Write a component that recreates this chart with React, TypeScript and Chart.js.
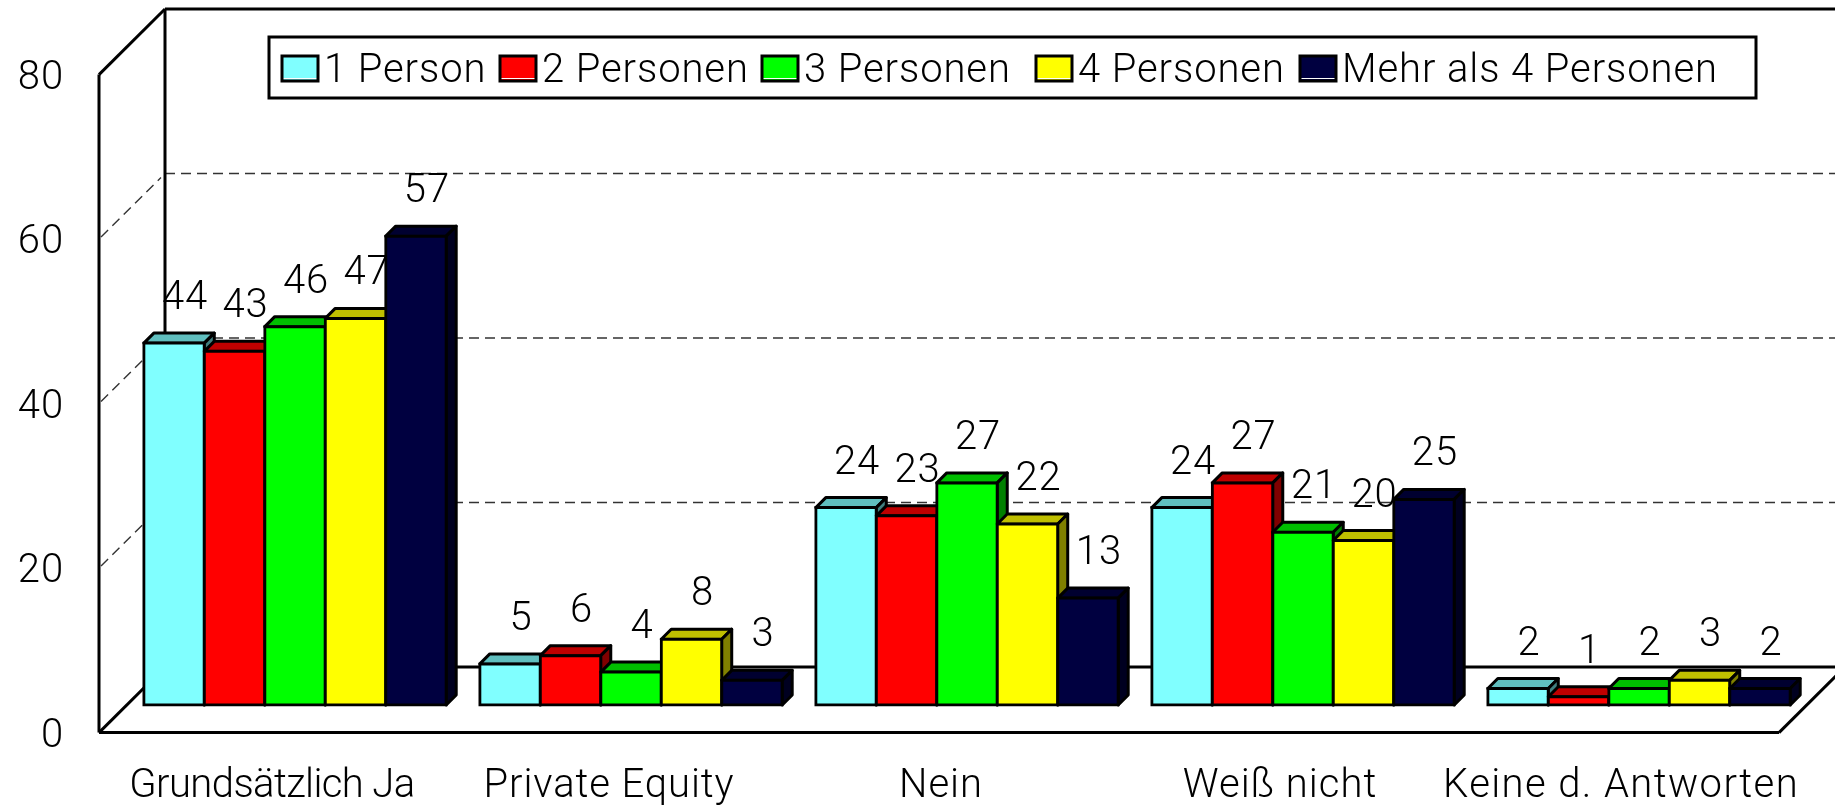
import React, { useEffect, useRef } from "react";
import { Chart, registerables } from "chart.js";

Chart.register(...registerables);

const categories = ["Grundsätzlich Ja", "Private Equity", "Nein", "Weiß nicht", "Keine d. Antworten"];
const seriesNames = ["1 Person", "2 Personen", "3 Personen", "4 Personen", "Mehr als 4 Personen"];
const onePerson = [44, 5, 24, 24, 2];
const twoPersons = [43, 6, 23, 27, 1];
const threePersons = [46, 4, 27, 21, 2];
const fourPersons = [47, 8, 22, 20, 3];
const moreThanFour = [57, 3, 13, 25, 2];
const seriesValues = [onePerson, twoPersons, threePersons, fourPersons, moreThanFour];
const frontColors = ["#80FFFF", "#FF0000", "#00FF00", "#FFFF00", "#000040"];
const topColors = ["#60BFBF", "#BF0000", "#00BF00", "#BFBF00", "#000030"];
const sideColors = ["#408080", "#800000", "#008000", "#808000", "#000020"];

const FAMILY = 'Roboto, "Liberation Sans", Arial, sans-serif';
const FONT = `300 40px ${FAMILY}`;
const SPACING = "0.9px";
const INK = "#000000";
const BAR_DEPTH = 10;
const FRONT = { dx: -28, dy: 27.6 };
const BACK = { dx: 38, dy: -38 };
const legendSwatchX = [282, 500, 762, 1036, 1300];
const legendTextX = [324, 542, 804, 1078, 1342];
const categoryLabelShift = [-23, -22, -26, -23, -18];
const categoryLabelSpacing = ["-0.6px", "0.9px", "1px", "1px", "1.4px"];

function line(ctx: CanvasRenderingContext2D, x1: number, y1: number, x2: number, y2: number) {
  ctx.beginPath();
  ctx.moveTo(x1, y1);
  ctx.lineTo(x2, y2);
  ctx.stroke();
}

function poly(ctx: CanvasRenderingContext2D, pts: number[][], fill: string) {
  ctx.beginPath();
  pts.forEach((p, i) => (i ? ctx.lineTo(p[0], p[1]) : ctx.moveTo(p[0], p[1])));
  ctx.closePath();
  ctx.fillStyle = fill;
  ctx.fill();
  ctx.strokeStyle = INK;
  ctx.lineWidth = 3;
  ctx.lineJoin = "round";
  ctx.stroke();
}

const walls3dPlugin = {
  id: "walls3d",
  beforeDraw(chart: any) {
    (chart.ctx as any).letterSpacing = SPACING;
  },
  beforeDatasetsDraw(chart: any) {
    const { ctx, scales, chartArea } = chart;
    const y = scales.y;
    const xl = chartArea.left;
    const xr = chartArea.right;
    const y0 = y.getPixelForValue(0);
    const yMax = y.getPixelForValue(80);
    ctx.save();
    ctx.strokeStyle = "#333";
    ctx.lineWidth = 1.4;
    ctx.setLineDash([10, 6]);
    y.ticks.forEach((t: any) => {
      if (t.value === 0 || t.value === 80) return;
      const p = y.getPixelForValue(t.value);
      line(ctx, xl + BACK.dx, p + BACK.dy, chart.width, p + BACK.dy);
      line(ctx, xl + FRONT.dx + 2, p + FRONT.dy - 2, xl + BACK.dx - 4, p + BACK.dy + 4);
    });
    ctx.setLineDash([]);
    ctx.strokeStyle = INK;
    ctx.lineWidth = 3;
    const fx = xl + FRONT.dx;
    const bx = xl + BACK.dx;
    line(ctx, fx, yMax + FRONT.dy, fx, y0 + FRONT.dy);
    line(ctx, fx, yMax + FRONT.dy, bx, yMax + BACK.dy);
    line(ctx, bx, yMax + BACK.dy, bx, y0 + BACK.dy);
    line(ctx, bx, yMax + BACK.dy, chart.width, yMax + BACK.dy);
    line(ctx, bx, y0 + BACK.dy, chart.width, y0 + BACK.dy);
    line(ctx, fx, y0 + FRONT.dy, xr + FRONT.dx, y0 + FRONT.dy);
    line(ctx, fx, y0 + FRONT.dy, bx, y0 + BACK.dy);
    line(ctx, xr + FRONT.dx, y0 + FRONT.dy, xr + BACK.dx, y0 + BACK.dy);
    ctx.restore();
  },
  // Chart.js paints datasets last-to-first; 3D bars need first-to-last so each
  // bar's front face covers the side of the bar to its left.
  beforeDatasetDraw() {
    return false;
  },
  afterDatasetsDraw(chart: any) {
    const { ctx } = chart;
    seriesNames.forEach((_, index) => {
      const meta = chart.getDatasetMeta(index);
      ctx.save();
      meta.data.forEach((bar: any) => {
        const l = bar.x - bar.width / 2;
        const r = bar.x + bar.width / 2;
        const t = bar.y;
        const b = bar.base;
        const d = BAR_DEPTH;
        poly(ctx, [[l, t], [l + d, t - d], [r + d, t - d], [r, t]], topColors[index]);
        poly(ctx, [[r, t], [r + d, t - d], [r + d, b - d], [r, b]], sideColors[index]);
      });
      ctx.restore();
      meta.controller.draw();
      ctx.save();
      ctx.font = FONT;
      ctx.fillStyle = INK;
      ctx.textAlign = "center";
      ctx.textBaseline = "middle";
      meta.data.forEach((bar: any, i: number) => {
        ctx.fillText(String(seriesValues[index][i]), bar.x + 11, bar.y - 44);
      });
      ctx.restore();
    });
  },
  afterDraw(chart: any) {
    const { ctx, scales } = chart;
    ctx.save();
    ctx.font = FONT;
    ctx.fillStyle = INK;
    ctx.textAlign = "center";
    ctx.textBaseline = "middle";
    categories.forEach((name, i) => {
      (ctx as any).letterSpacing = categoryLabelSpacing[i];
      ctx.fillText(name, scales.x.getPixelForTick(i) + categoryLabelShift[i], 787);
    });
    (ctx as any).letterSpacing = SPACING;
    ctx.textAlign = "left";
    ctx.fillStyle = "#fff";
    ctx.strokeStyle = INK;
    ctx.lineWidth = 3;
    ctx.fillRect(269, 37, 1487, 61);
    ctx.strokeRect(269, 37, 1487, 61);
    seriesNames.forEach((name, i) => {
      ctx.fillStyle = frontColors[i];
      ctx.fillRect(legendSwatchX[i], 56, 36, 25);
      ctx.fillStyle = "#fff";
      ctx.fillRect(legendSwatchX[i] + 1, 78, 34, 1);
      ctx.strokeStyle = INK;
      ctx.strokeRect(legendSwatchX[i], 56, 36, 25);
      ctx.fillStyle = INK;
      ctx.fillText(name, legendTextX[i], 72);
    });
    ctx.restore();
  },
};

export default function App() {
  const ref = useRef<HTMLCanvasElement | null>(null);
  useEffect(() => {
    if (!ref.current) return;
    const chart = new Chart(ref.current, {
      type: "bar",
      plugins: [walls3dPlugin],
      data: {
        labels: categories,
        datasets: seriesNames.map((name, i) => ({
          label: name,
          data: seriesValues[i],
          backgroundColor: frontColors[i],
          borderColor: INK,
          borderWidth: 3,
          borderSkipped: false,
          inflateAmount: 1.5,
          clip: false,
          categoryPercentage: 0.9,
          barPercentage: 1,
        })),
      },
      options: {
        animation: false,
        responsive: false,
        devicePixelRatio: 1,
        layout: { padding: { left: 0, right: 28, top: 47, bottom: 0 } },
        plugins: { legend: { display: false }, tooltip: { enabled: false }, title: { display: false } },
        scales: {
          x: {
            grid: { display: false, drawTicks: false },
            border: { display: false },
            afterFit(s: any) {
              s.height = 101;
              s.paddingLeft = 0;
              s.paddingRight = 0;
            },
            ticks: { display: false, autoSkip: false, maxRotation: 0, minRotation: 0 },
          },
          y: {
            min: 0,
            max: 80,
            grid: { display: false, drawTicks: false },
            border: { display: false },
            afterFit(s: any) {
              s.width = 127;
              s.paddingTop = 0;
              s.paddingBottom = 0;
            },
            ticks: {
              stepSize: 20,
              padding: 63,
              labelOffset: 31.5,
              color: INK,
              font: { family: FAMILY, size: 40, weight: "300" },
            },
          },
        },
      },
    } as any);
    return () => chart.destroy();
  }, []);
  return (
    <div style={{ position: "absolute", left: 0, top: 0, width: 1835, height: 806, background: "#fff" }}>
      <canvas ref={ref} width={1835} height={806} style={{ display: "block" }} />
    </div>
  );
}
